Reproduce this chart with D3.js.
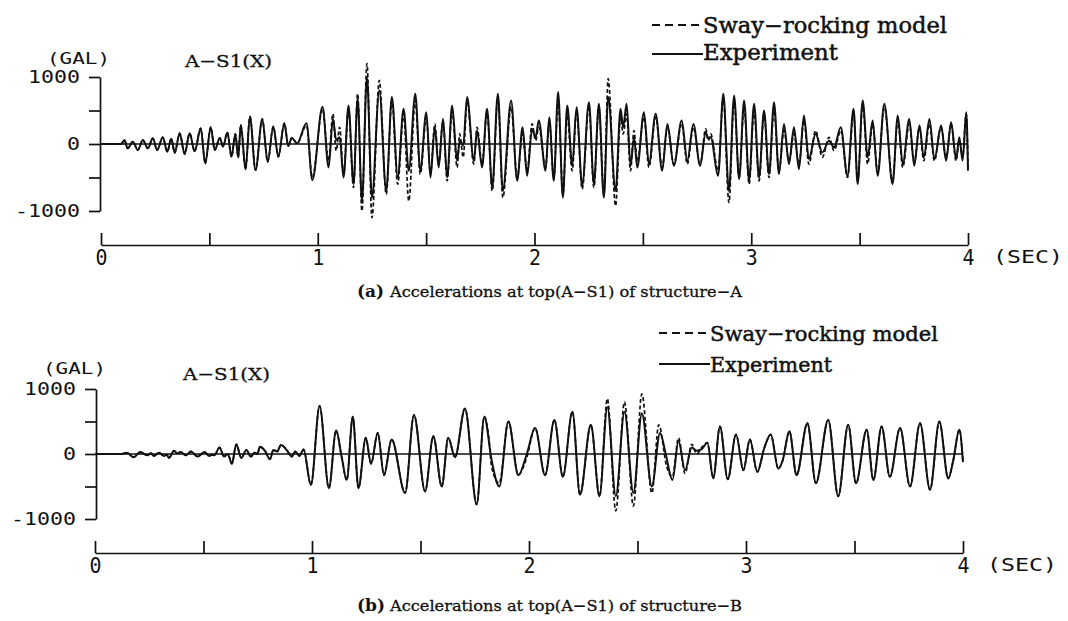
<!DOCTYPE html>
<html>
<head>
<meta charset="utf-8">
<script src="https://cdn.jsdelivr.net/npm/d3@7"></script>
<style>
  body { margin: 0; background: #fff; }
  svg { display: block; }
</style>
</head>
<body>
<script>
const width = 1068;
const height = 621;

// axis ticks
const yTicks = [-1000, -500, 0, 500, 1000];
const yLabels = [-1000, 0, 1000];
const xTicks = [0, 0.5, 1, 1.5, 2, 2.5, 3, 3.5, 4];
const xLabels = [0, 1, 2, 3, 4];

// (a) structure A : [time (sec), acceleration (gal)] read at peaks/troughs
const experimentA = [
  [0, 0], [0.093, 0], [0.108, 60], [0.123, -65], [0.147, 35], [0.170, -90], [0.193, 60], [0.216, -65],
  [0.239, 85], [0.259, -90], [0.285, 100], [0.306, -115], [0.324, 80], [0.340, -130], [0.363, 160],
  [0.386, -150], [0.409, 160], [0.432, -110], [0.460, 235], [0.481, -290], [0.506, 250], [0.525, -90],
  [0.548, 90], [0.563, -40], [0.583, 170], [0.602, -190], [0.620, 150], [0.633, -200], [0.645, 285],
  [0.667, -380], [0.687, 410], [0.713, -390], [0.744, 375], [0.769, -265], [0.795, 260], [0.818, -190],
  [0.846, 310], [0.864, -30], [0.880, 90], [0.905, 10], [0.948, 310], [0.975, -540], [1.022, 555],
  [1.050, -350], [1.070, 375], [1.085, 60], [1.101, 100], [1.119, -500], [1.142, 575], [1.165, -600],
  [1.184, 675], [1.204, -850], [1.227, 1000], [1.250, -800], [1.284, 800], [1.316, -700], [1.342, 700],
  [1.369, -500], [1.396, 525], [1.420, -400], [1.450, 750], [1.473, -400], [1.501, 475], [1.520, -500],
  [1.540, 250], [1.558, -350], [1.578, 375], [1.597, -500], [1.620, 575], [1.643, -250], [1.655, 50],
  [1.671, -20], [1.689, 700], [1.720, -250], [1.735, 200], [1.758, -350], [1.781, 525], [1.805, -650],
  [1.831, 750], [1.854, -700], [1.892, 650], [1.920, -550], [1.945, 250], [1.966, -475], [1.989, 225],
  [2.005, 100], [2.020, 350], [2.051, -400], [2.068, 400], [2.089, -550], [2.109, 775], [2.131, -800],
  [2.151, 575], [2.174, -325], [2.194, 550], [2.220, -625], [2.251, 625], [2.274, -600], [2.297, 600],
  [2.320, -800], [2.340, 700], [2.374, -700], [2.397, 525], [2.409, 250], [2.425, 600], [2.443, -325],
  [2.459, 100], [2.474, -350], [2.505, 475], [2.528, -300], [2.559, 450], [2.589, -400], [2.613, 300],
  [2.643, -325], [2.679, 350], [2.705, -250], [2.733, 300], [2.764, -325], [2.790, 175], [2.802, 80],
  [2.813, 100], [2.847, -475], [2.871, 750], [2.897, -700], [2.921, 725], [2.944, -525], [2.967, 650],
  [2.990, -550], [3.013, 600], [3.036, -500], [3.059, 500], [3.082, -450], [3.105, 625], [3.128, -450],
  [3.151, 300], [3.174, -300], [3.197, 250], [3.220, -375], [3.243, 425], [3.266, -225], [3.297, 150],
  [3.328, -125], [3.359, 50], [3.382, -50], [3.413, 250], [3.444, -475], [3.472, 525], [3.491, -600],
  [3.514, 650], [3.537, -200], [3.560, 350], [3.583, -475], [3.614, 600], [3.652, -600], [3.676, 425],
  [3.699, -300], [3.729, 375], [3.752, -325], [3.776, 275], [3.796, -200], [3.822, 375], [3.845, -225],
  [3.876, 275], [3.899, -250], [3.922, 325], [3.945, -225], [3.960, 100], [3.975, -250], [3.992, 475],
  [4.000, -400]
];

const modelA = [
  [0, 0], [0.093, 0], [0.108, 60], [0.123, -65], [0.147, 35], [0.170, -90], [0.193, 60], [0.216, -65],
  [0.239, 85], [0.259, -90], [0.285, 100], [0.306, -115], [0.324, 80], [0.340, -130], [0.363, 160],
  [0.386, -150], [0.409, 160], [0.432, -110], [0.460, 235], [0.481, -290], [0.506, 250], [0.525, -90],
  [0.548, 90], [0.563, -40], [0.583, 170], [0.602, -190], [0.620, 150], [0.633, -200], [0.645, 285],
  [0.667, -380], [0.687, 410], [0.713, -390], [0.744, 375], [0.769, -265], [0.795, 260], [0.818, -190],
  [0.846, 310], [0.864, -30], [0.880, 90], [0.905, 10], [0.948, 280], [0.975, -500], [1.022, 520],
  [1.050, -250], [1.070, 450], [1.085, -100], [1.101, 250], [1.119, -450], [1.142, 500], [1.165, -650],
  [1.184, 750], [1.204, -1000], [1.227, 1200], [1.250, -1100], [1.284, 950], [1.316, -750], [1.342, 650],
  [1.369, -600], [1.396, 450], [1.420, -850], [1.450, 650], [1.473, -450], [1.501, 400], [1.520, -450],
  [1.540, 300], [1.558, -300], [1.578, 350], [1.597, -550], [1.620, 500], [1.643, -350], [1.655, 150],
  [1.671, -200], [1.689, 650], [1.720, -300], [1.735, 250], [1.758, -300], [1.781, 500], [1.805, -700],
  [1.831, 700], [1.854, -800], [1.892, 550], [1.920, -500], [1.945, 150], [1.966, -400], [1.989, 300],
  [2.005, 50], [2.020, 250], [2.051, -350], [2.068, 350], [2.089, -500], [2.109, 650], [2.131, -750],
  [2.151, 425], [2.174, -400], [2.194, 500], [2.220, -675], [2.251, 575], [2.274, -650], [2.297, 550],
  [2.320, -750], [2.340, 975], [2.374, -925], [2.397, 400], [2.409, 150], [2.425, 450], [2.443, -400],
  [2.459, 200], [2.474, -250], [2.505, 400], [2.528, -350], [2.559, 400], [2.589, -350], [2.613, 250],
  [2.643, -300], [2.679, 300], [2.705, -300], [2.733, 250], [2.764, -300], [2.790, 225], [2.802, 50],
  [2.813, 150], [2.847, -400], [2.871, 700], [2.897, -875], [2.921, 650], [2.944, -500], [2.967, 550],
  [2.990, -600], [3.013, 500], [3.036, -550], [3.059, 450], [3.082, -500], [3.105, 500], [3.128, -400],
  [3.151, 200], [3.174, -250], [3.197, 150], [3.220, -300], [3.243, 350], [3.266, -300], [3.297, 200],
  [3.328, -200], [3.359, 100], [3.382, -100], [3.413, 200], [3.444, -500], [3.472, 450], [3.491, -550],
  [3.514, 600], [3.537, -300], [3.560, 300], [3.583, -425], [3.614, 550], [3.652, -550], [3.676, 350],
  [3.699, -350], [3.729, 300], [3.752, -275], [3.776, 250], [3.796, -250], [3.822, 300], [3.845, -250],
  [3.876, 250], [3.899, -200], [3.922, 300], [3.945, -250], [3.960, 50], [3.975, -200], [3.992, 450],
  [4.000, -350]
];

// (b) structure B
const experimentB = [
  [0, 0], [0.120, 0], [0.147, 20], [0.178, -50], [0.209, 30], [0.240, -20], [0.258, 10], [0.271, -30],
  [0.295, 20], [0.318, -30], [0.330, -10], [0.341, -60], [0.364, 50], [0.380, 10], [0.395, 30],
  [0.419, -20], [0.442, 40], [0.473, -40], [0.504, 30], [0.527, -30], [0.540, -10], [0.550, -20],
  [0.574, 100], [0.594, -40], [0.612, 0], [0.631, -150], [0.651, 150], [0.674, -60], [0.698, 60],
  [0.718, -40], [0.736, 20], [0.748, 0], [0.760, 110], [0.783, 50], [0.806, -80], [0.822, 60],
  [0.840, 40], [0.857, 140], [0.884, 60], [0.907, -40], [0.922, 40], [0.942, -30], [0.961, 70],
  [0.995, -475], [1.035, 740], [1.078, -525], [1.111, 360], [1.137, -50], [1.160, -400], [1.188, 575],
  [1.214, -525], [1.248, 250], [1.272, -150], [1.303, 325], [1.332, -325], [1.367, 225], [1.429, -600],
  [1.470, 600], [1.521, -575], [1.559, 275], [1.598, -500], [1.628, 250], [1.659, -50], [1.705, 700],
  [1.759, -775], [1.794, 575], [1.828, -100], [1.863, -500], [1.905, 500], [1.951, -325], [1.990, 0],
  [2.028, 400], [2.074, -325], [2.117, 525], [2.156, -350], [2.200, 650], [2.235, -625], [2.285, 450],
  [2.325, -650], [2.361, 725], [2.400, -650], [2.440, 650], [2.481, -600], [2.520, 625], [2.566, -500],
  [2.604, 325], [2.630, 0], [2.661, -400], [2.689, 200], [2.719, -250], [2.750, 100], [2.773, 50],
  [2.796, 75], [2.822, 175], [2.849, -375], [2.880, 425], [2.916, -390], [2.954, 300], [2.988, -250],
  [3.018, 225], [3.052, -275], [3.085, 100], [3.114, 300], [3.149, -225], [3.169, -100], [3.200, 350],
  [3.233, -325], [3.283, 475], [3.322, -450], [3.379, 525], [3.425, -650], [3.471, 450], [3.507, -450],
  [3.556, 375], [3.587, -400], [3.625, 425], [3.663, -350], [3.710, 400], [3.756, -500], [3.802, 475],
  [3.848, -550], [3.891, 500], [3.932, -375], [3.955, -100], [3.983, 375], [4.000, -125]
];

const modelB = [
  [0, 0], [0.120, 0], [0.147, 20], [0.178, -50], [0.209, 30], [0.240, -20], [0.258, 10], [0.271, -30],
  [0.295, 20], [0.318, -30], [0.330, -10], [0.341, -60], [0.364, 50], [0.380, 10], [0.395, 30],
  [0.419, -20], [0.442, 40], [0.473, -40], [0.504, 30], [0.527, -30], [0.540, -10], [0.550, -20],
  [0.574, 100], [0.594, -40], [0.612, 0], [0.631, -150], [0.651, 150], [0.674, -60], [0.698, 60],
  [0.718, -40], [0.736, 20], [0.748, 0], [0.760, 110], [0.783, 50], [0.806, -80], [0.822, 60],
  [0.840, 40], [0.857, 140], [0.884, 60], [0.907, -40], [0.922, 40], [0.942, -30], [0.961, 70],
  [0.995, -475], [1.035, 740], [1.078, -525], [1.111, 360], [1.137, -50], [1.160, -400], [1.188, 575],
  [1.214, -525], [1.248, 250], [1.272, -150], [1.303, 325], [1.332, -325], [1.367, 225], [1.429, -600],
  [1.470, 600], [1.521, -575], [1.559, 275], [1.598, -500], [1.628, 250], [1.659, -50], [1.705, 700],
  [1.759, -775], [1.794, 575], [1.815, 250], [1.828, -200], [1.863, -450], [1.905, 500], [1.951, -325],
  [1.974, -200], [1.990, -50], [2.028, 400], [2.074, -325], [2.117, 525], [2.156, -350], [2.200, 650],
  [2.235, -625], [2.285, 450], [2.325, -650], [2.361, 850], [2.400, -875], [2.440, 800], [2.481, -800],
  [2.520, 925], [2.566, -600], [2.598, 450], [2.635, -200], [2.661, -350], [2.689, 250], [2.719, -300],
  [2.750, 150], [2.773, 0], [2.796, 100], [2.822, 175], [2.849, -375], [2.880, 425], [2.916, -390],
  [2.954, 300], [2.988, -250], [3.018, 225], [3.052, -275], [3.085, 100], [3.114, 300], [3.149, -225],
  [3.169, -100], [3.200, 350], [3.233, -325], [3.283, 475], [3.322, -450], [3.379, 525], [3.425, -650],
  [3.471, 450], [3.507, -450], [3.556, 375], [3.587, -400], [3.625, 425], [3.663, -350], [3.710, 400],
  [3.756, -500], [3.802, 475], [3.848, -550], [3.891, 500], [3.932, -375], [3.955, -100], [3.983, 375],
  [4.000, -125]
];

const legendNames = ["Sway\u2212rocking model", "Experiment"];
const seriesTitle = "A\u2212S1(X)";

// layout of the two panels
const panels = [
  {
    experiment: experimentA, model: modelA,
    x0: 101, x1: 968, yTop: 77, yBottom: 211, axisX: 100, timeY: 245,
    letter: "(a)", caption: "Accelerations at top(A\u2212S1) of structure\u2212A", captionY: 297,
    legendX: 652, legendTextX: 703, legendY: [25, 54], legendBase: [33, 60],
    legendLen: [244, 135], legendSize: 22,
    gal: [47, 64], title: [185, 67], secX: 993
  },
  {
    experiment: experimentB, model: modelB,
    x0: 95, x1: 963, yTop: 389, yBottom: 519, axisX: 96, timeY: 553,
    letter: "(b)", caption: "Accelerations at top(A\u2212S1) of structure\u2212B", captionY: 611,
    legendX: 659, legendTextX: 710, legendY: [333, 364], legendBase: [341, 372],
    legendLen: [228, 122], legendSize: 21,
    gal: [43, 374], title: [183, 380], secX: 987
  }
];

const ink = "#111";
const mono = "'DejaVu Sans Mono', monospace";
const serif = "'DejaVu Serif', serif";

const svg = d3.select("body")
  .append("svg")
  .attr("width", width)
  .attr("height", height);

panels.forEach((p) => {
  const x = d3.scaleLinear().domain([0, 4]).range([p.x0, p.x1]);
  const y = d3.scaleLinear().domain([-1000, 1000]).range([p.yBottom, p.yTop]);
  const g = svg.append("g");

  // acceleration axis
  const yAxis = g.append("g")
    .attr("transform", `translate(${p.axisX},0)`)
    .call(d3.axisLeft(y)
      .tickValues(yTicks)
      .tickSize(11)
      .tickSizeOuter(0)
      .tickPadding(9)
      .tickFormat((d) => (yLabels.includes(d) ? String(d) : "")));
  yAxis.select(".domain").attr("stroke", ink).attr("stroke-width", 1.7);
  yAxis.selectAll(".tick line").attr("stroke", ink).attr("stroke-width", 1.7);
  yAxis.selectAll(".tick text")
    .attr("fill", ink)
    .style("font-family", mono)
    .style("font-size", "18px")
    .attr("textLength", (d) => (yLabels.includes(d) ? String(d).length * 13 : null))
    .attr("lengthAdjust", "spacingAndGlyphs");

  // time axis, ticks pointing up
  const xAxis = g.append("g")
    .attr("transform", `translate(0,${p.timeY})`)
    .call(d3.axisBottom(x)
      .tickValues(xTicks)
      .tickSize(-12)
      .tickSizeOuter(0)
      .tickPadding(5)
      .tickFormat((d) => (xLabels.includes(d) ? String(d) : "")));
  xAxis.select(".domain").attr("stroke", ink).attr("stroke-width", 1.7);
  xAxis.selectAll(".tick line").attr("stroke", ink).attr("stroke-width", 1.7);
  xAxis.selectAll(".tick text")
    .attr("fill", ink)
    .style("font-family", mono)
    .style("font-size", "21px")
    .attr("textLength", (d) => (xLabels.includes(d) ? 12 : null))
    .attr("lengthAdjust", "spacingAndGlyphs");

  g.append("text")
    .attr("x", p.secX)
    .attr("y", p.timeY + 18)
    .attr("fill", ink)
    .style("font-family", mono)
    .style("font-size", "18px")
    .attr("textLength", 70)
    .attr("lengthAdjust", "spacingAndGlyphs")
    .text("(SEC)");

  g.append("text")
    .attr("x", p.gal[0])
    .attr("y", p.gal[1])
    .attr("fill", ink)
    .style("font-family", mono)
    .style("font-size", "16px")
    .attr("textLength", 63)
    .attr("lengthAdjust", "spacingAndGlyphs")
    .text("(GAL)");

  g.append("text")
    .attr("x", p.title[0])
    .attr("y", p.title[1])
    .attr("fill", ink)
    .attr("stroke", ink)
    .attr("stroke-width", 0.3)
    .style("font-family", serif)
    .style("font-size", "17px")
    .attr("textLength", 87)
    .attr("lengthAdjust", "spacingAndGlyphs")
    .text(seriesTitle);

  // zero line
  g.append("line")
    .attr("x1", p.axisX)
    .attr("x2", x(4))
    .attr("y1", y(0))
    .attr("y2", y(0))
    .attr("stroke", ink)
    .attr("stroke-width", 1.4);

  const line = d3.line()
    .x((d) => x(d[0]))
    .y((d) => y(d[1]))
    .curve(d3.curveMonotoneX);

  g.append("path")
    .datum(p.model)
    .attr("d", line)
    .attr("fill", "none")
    .attr("stroke", ink)
    .attr("stroke-width", 1.7)
    .attr("stroke-dasharray", "4,2.5");

  g.append("path")
    .datum(p.experiment)
    .attr("d", line)
    .attr("fill", "none")
    .attr("stroke", ink)
    .attr("stroke-width", 2);

  // legend
  g.append("line")
    .attr("x1", p.legendX).attr("x2", p.legendTextX)
    .attr("y1", p.legendY[0]).attr("y2", p.legendY[0])
    .attr("stroke", ink).attr("stroke-width", 1.8)
    .attr("stroke-dasharray", "8,5");
  g.append("line")
    .attr("x1", p.legendX).attr("x2", p.legendTextX)
    .attr("y1", p.legendY[1]).attr("y2", p.legendY[1])
    .attr("stroke", ink).attr("stroke-width", 1.8);

  legendNames.forEach((name, i) => {
    g.append("text")
      .attr("x", p.legendTextX)
      .attr("y", p.legendBase[i])
      .attr("fill", ink)
      .attr("stroke", ink)
      .attr("stroke-width", 0.5)
      .style("font-family", serif)
      .style("font-size", `${p.legendSize}px`)
      .attr("textLength", p.legendLen[i])
      .attr("lengthAdjust", "spacingAndGlyphs")
      .text(name);
  });

  // caption
  g.append("text")
    .attr("x", 357)
    .attr("y", p.captionY)
    .attr("fill", ink)
    .style("font-family", serif)
    .style("font-size", "17px")
    .style("font-weight", "bold")
    .text(p.letter);
  g.append("text")
    .attr("x", 390)
    .attr("y", p.captionY)
    .attr("fill", ink)
    .attr("stroke", ink)
    .attr("stroke-width", 0.3)
    .style("font-family", serif)
    .style("font-size", "15px")
    .attr("textLength", 352)
    .attr("lengthAdjust", "spacingAndGlyphs")
    .text(p.caption);
});
</script>
</body>
</html>
